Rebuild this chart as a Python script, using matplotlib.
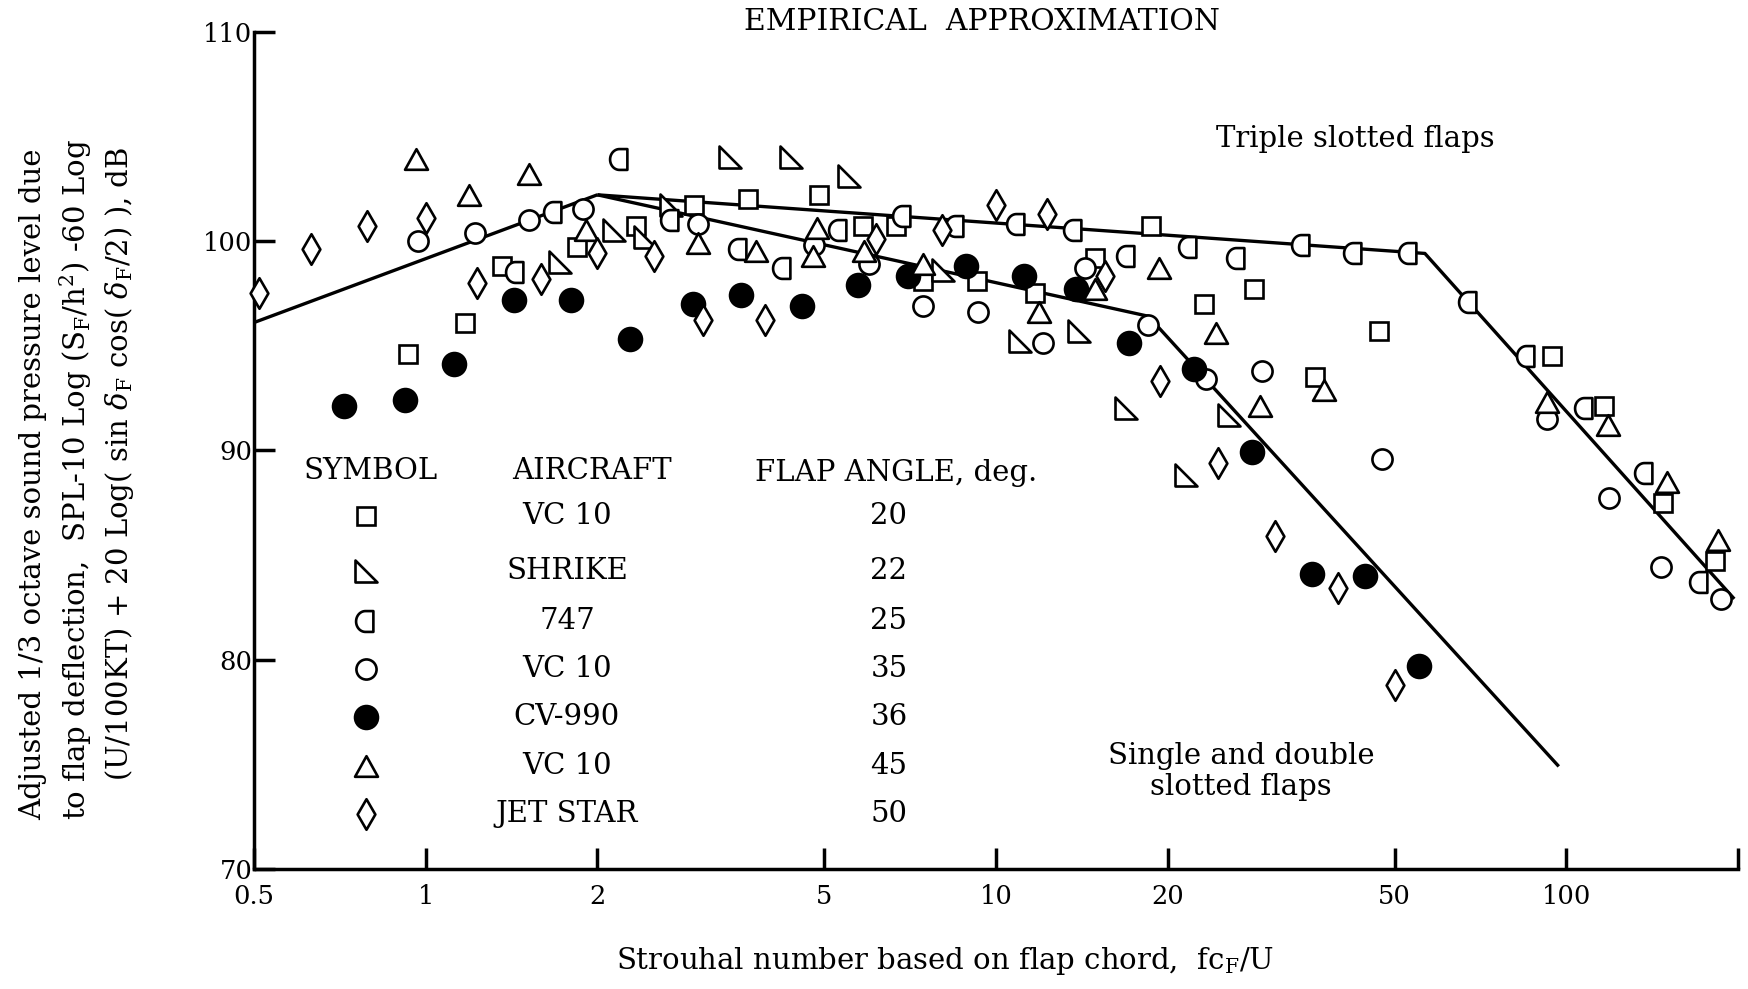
import numpy as np
import matplotlib
matplotlib.use("Agg")
import matplotlib.pyplot as plt
from matplotlib.path import Path
from matplotlib.ticker import NullLocator

# ---------------- data ----------------
# VC 10, 20 deg (open square)
sq_x = [0.93, 1.17, 1.36, 1.84, 2.34, 2.96, 3.67, 4.90, 5.84, 6.68, 7.44, 9.28, 11.7,
        14.9, 18.7, 23.2, 28.3, 36.2, 47.0, 94.3, 116.6, 148, 182.6]
sq_y = [94.6, 96.1, 98.8, 99.7, 100.7, 101.7, 102.0, 102.2, 100.7, 100.7, 98.1, 98.1, 97.5,
        99.2, 100.7, 97.0, 97.7, 93.5, 95.7, 94.5, 92.1, 87.5, 84.7]
# SHRIKE, 22 deg (right triangle)
rt_x = [1.72, 2.14, 2.42, 2.69, 3.41, 4.37, 5.53, 8.06, 11.0, 14.0, 16.9, 21.5, 25.6]
rt_y = [99.0, 100.5, 100.2, 101.7, 104.0, 104.0, 103.1, 98.6, 95.2, 95.7, 92.0, 88.8, 91.7]
# 747, 25 deg (half circle)
hc_x = [1.44, 1.68, 2.19, 2.69, 3.55, 4.23, 5.31, 6.86, 8.5, 10.9, 13.7, 17.0, 21.8, 26.5,
        34.4, 42.4, 52.9, 67.4, 85.2, 108, 137.4, 171.6]
hc_y = [98.5, 101.4, 103.9, 101.0, 99.6, 98.7, 100.5, 101.2, 100.7, 100.8, 100.5, 99.3, 99.7, 99.2,
        99.8, 99.4, 99.4, 97.1, 94.5, 92.0, 88.9, 83.7]
# VC 10, 35 deg (open circle)
oc_x = [0.97, 1.22, 1.52, 1.89, 3.0, 4.80, 6.0, 7.44, 9.3, 12.1, 14.3, 18.5, 23.3, 29.3,
        47.5, 92.6, 119, 146.6, 187]
oc_y = [100.0, 100.4, 101.0, 101.5, 100.8, 99.8, 98.9, 96.9, 96.6, 95.1, 98.7, 96.0, 93.4, 93.8,
        89.6, 91.5, 87.7, 84.4, 82.9]
# CV-990, 36 deg (filled circle)
fc_x = [0.72, 0.92, 1.12, 1.43, 1.80, 2.28, 2.94, 3.57, 4.57, 5.72, 7.02, 8.86, 11.2, 13.8,
        17.1, 22.2, 28.1, 35.8, 44.3, 55.2]
fc_y = [92.1, 92.4, 94.1, 97.2, 97.2, 95.3, 97.0, 97.4, 96.9, 97.9, 98.3, 98.8, 98.3, 97.7,
        95.1, 93.9, 89.9, 84.1, 84.0, 79.7]
# VC 10, 45 deg (open triangle)
tr_x = [0.96, 1.19, 1.52, 1.91, 3.0, 3.8, 4.86, 4.78, 5.87, 7.44, 11.9, 14.9, 19.3, 24.3,
        29.0, 37.6, 92.4, 118.2, 150, 184.6]
tr_y = [103.9, 102.2, 103.2, 100.5, 99.9, 99.5, 100.6, 99.3, 99.5, 98.9, 96.6, 97.7, 98.7, 95.6,
        92.1, 92.9, 92.3, 91.2, 88.5, 85.7]
# JET STAR, 50 deg (diamond)
dm_x = [0.51, 0.63, 0.79, 1.0, 1.23, 1.59, 2.0, 2.51, 3.06, 3.93, 6.16, 8.03, 10.0, 12.3,
        15.5, 19.4, 24.5, 30.9, 39.8, 50.0]
dm_y = [97.5, 99.6, 100.7, 101.1, 98.0, 98.2, 99.4, 99.3, 96.2, 96.2, 100.1, 100.5, 101.7, 101.3,
        98.3, 93.3, 89.4, 85.9, 83.4, 78.8]

# empirical approximation lines
rise_x = [0.5, 2.0]
rise_y = [96.1, 102.2]
triple_x = [2.0, 56.5, 197]
triple_y = [102.2, 99.4, 82.9]
single_x = [2.0, 18.5, 97]
single_y = [102.2, 96.4, 74.9]

x_ticks = [0.5, 1, 2, 5, 10, 20, 50, 100, 200]
x_ticklabels = ['0.5', '1', '2', '5', '10', '20', '50', '100', '']
y_ticks = [70, 80, 90, 100, 110]

legend_aircraft = ['VC 10', 'SHRIKE', '747', 'VC 10', 'CV-990', 'VC 10', 'JET STAR']
legend_angles = ['20', '22', '25', '35', '36', '45', '50']

# ---------------- figure ----------------
plt.rcParams['font.family'] = ['DejaVu Serif']
plt.rcParams['mathtext.fontset'] = 'dejavuserif'

W, H = 1749, 989
fig = plt.figure(figsize=(W / 100, H / 100), dpi=100)


def fx(px):
    return px / W


def fy(py):
    return 1 - py / H


L, R, B, T = 254, 1738, 869, 31.5
ax = fig.add_axes([fx(L), fy(B), fx(R) - fx(L), fy(T) - fy(B)])
ax.set_xscale('log')
ax.set_xlim(0.5, 200)
ax.set_ylim(70, 110)


def closed(verts):
    verts = list(verts) + [verts[0]]
    codes = [Path.MOVETO] + [Path.LINETO] * (len(verts) - 2) + [Path.CLOSEPOLY]
    return Path(verts, codes)


tri_up = closed([(0, 0.45), (-0.5, -0.45), (0.5, -0.45)])
tri_right = closed([(-0.5, 0.5), (-0.5, -0.5), (0.5, -0.5)])
diamond = closed([(0, 0.5), (0.29, 0), (0, -0.5), (-0.29, 0)])
th = np.linspace(np.pi / 2, 3 * np.pi / 2, 30)
half = closed([(-0.05 + 0.45 * np.cos(t), 0.5 * np.sin(t)) for t in th] + [(0.33, -0.5), (0.33, 0.5)])

ew = 1.9
styles = [
    dict(marker='s', ms=13, mfc='white'),
    dict(marker=tri_right, ms=16.5, mfc='white'),
    dict(marker=half, ms=15, mfc='white'),
    dict(marker='o', ms=14.5, mfc='white'),
    dict(marker='o', ms=16.5, mfc='black'),
    dict(marker=tri_up, ms=16.5, mfc='white'),
    dict(marker=diamond, ms=22, mfc='white'),
]
series = [(sq_x, sq_y), (rt_x, rt_y), (hc_x, hc_y), (oc_x, oc_y),
          (fc_x, fc_y), (tr_x, tr_y), (dm_x, dm_y)]

lw = 2.4
for xs, ys in [(rise_x, rise_y), (triple_x, triple_y), (single_x, single_y)]:
    ax.plot(xs, ys, color='black', lw=lw, zorder=2, solid_capstyle='butt')

for (xs, ys), st in zip(series, styles):
    ax.plot(xs, ys, linestyle='none', mec='black', mew=ew, clip_on=False, zorder=3, **st)

# axes styling
for s in ['top', 'right']:
    ax.spines[s].set_visible(False)
for s in ['left', 'bottom']:
    ax.spines[s].set_linewidth(2.5)
ax.set_xticks(x_ticks)
ax.set_xticklabels(x_ticklabels)
ax.xaxis.set_minor_locator(NullLocator())
ax.set_yticks(y_ticks)
ax.tick_params(axis='both', direction='in', length=15, width=2.5, labelsize=18.5)
ax.tick_params(axis='x', pad=11)
ax.tick_params(axis='y', pad=1)

fs = 21
# title and annotations
fig.text(fx(982), fy(22), 'EMPIRICAL  APPROXIMATION', ha='center', va='center', fontsize=21.5)
fig.text(fx(1216), fy(139), 'Triple slotted flaps', ha='left', va='center', fontsize=fs)
fig.text(fx(1241), fy(756), 'Single and double', ha='center', va='center', fontsize=fs)
fig.text(fx(1241), fy(787), 'slotted flaps', ha='center', va='center', fontsize=fs)

# x label
fig.text(fx(945), fy(961), r'Strouhal number based on flap chord,  fc$_{\mathrm{F}}$/U',
         ha='center', va='center', fontsize=fs)

# y label (three lines)
fig.text(fx(33), fy(820), 'Adjusted 1/3 octave sound pressure level due',
         rotation=90, ha='center', va='bottom', fontsize=fs)
fig.text(fx(76), fy(820), r'to flap deflection,  SPL-10 Log (S$_{\mathrm{F}}$/h$^{2}$) -60 Log',
         rotation=90, ha='center', va='bottom', fontsize=fs)
fig.text(fx(120), fy(781), r'(U/100KT) + 20 Log( sin $\delta_{\mathrm{F}}$ cos( $\delta_{\mathrm{F}}$/2) ), dB',
         rotation=90, ha='center', va='bottom', fontsize=fs)

# legend table
fig.text(fx(371), fy(471), 'SYMBOL', ha='center', va='center', fontsize=fs)
fig.text(fx(592), fy(471), 'AIRCRAFT', ha='center', va='center', fontsize=fs)
fig.text(fx(755), fy(473), 'FLAP ANGLE, deg.', ha='left', va='center', fontsize=fs)
row_y = [516, 571, 621, 669, 717, 766, 814]
for ry, st, name, ang in zip(row_y, styles, legend_aircraft, legend_angles):
    ax.plot([fx(366)], [fy(ry)], transform=fig.transFigure, linestyle='none',
            mec='black', mew=ew, clip_on=False, zorder=3, **st)
    fig.text(fx(567), fy(ry), name, ha='center', va='center', fontsize=fs)
    fig.text(fx(889), fy(ry), ang, ha='center', va='center', fontsize=fs)

fig.savefig('out.png', dpi=100, facecolor='white')
